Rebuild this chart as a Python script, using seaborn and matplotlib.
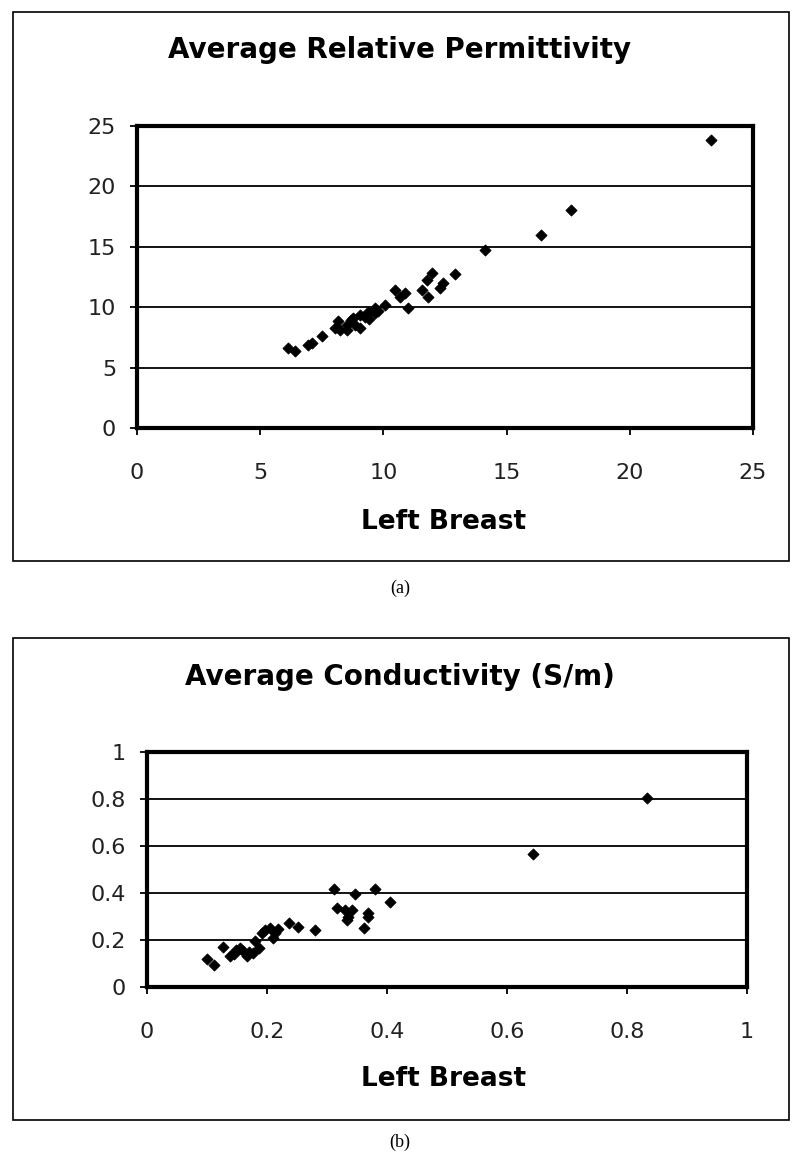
import numpy as np
import pandas as pd
import seaborn as sns
import matplotlib.pyplot as plt
from matplotlib.patches import Rectangle

sns.set_style("white")
plt.rcParams['font.family'] = ['DejaVu Sans']
plt.rcParams['text.color'] = 'black'

# (a) average relative permittivity, left breast vs right breast
perm_left = [6.14, 6.41, 6.95, 7.09, 7.49, 8.03, 8.17, 8.24, 8.51, 8.51, 8.78, 8.85,
             9.05, 9.05, 9.25, 9.39, 9.66, 9.66, 10.07, 10.47, 10.67, 10.88, 11.01,
             11.55, 11.76, 11.82, 11.96, 12.30, 12.43, 12.91, 8.70, 9.40, 9.80,
             14.14, 16.40, 17.63, 23.29]
perm_right = [6.62, 6.34, 6.89, 7.03, 7.63, 8.27, 8.82, 8.13, 8.13, 8.54, 9.10, 8.54,
              8.27, 9.37, 9.23, 9.64, 9.93, 9.51, 10.20, 11.44, 10.88, 11.17, 9.93,
              11.44, 12.27, 10.88, 12.82, 11.58, 11.99, 12.76, 8.90, 9.00, 9.70,
              14.70, 15.98, 18.04, 23.80]

# (b) average conductivity (S/m)
cond_left = [0.100, 0.112, 0.127, 0.138, 0.149, 0.160, 0.166, 0.177, 0.180, 0.186,
             0.191, 0.197, 0.205, 0.210, 0.213, 0.219, 0.236, 0.252, 0.280, 0.311,
             0.316, 0.330, 0.335, 0.333, 0.341, 0.347, 0.361, 0.368, 0.368, 0.380,
             0.405, 0.145, 0.155, 0.170, 0.643, 0.833]
cond_right = [0.119, 0.095, 0.170, 0.130, 0.159, 0.152, 0.133, 0.145, 0.194, 0.166,
              0.230, 0.244, 0.251, 0.208, 0.230, 0.247, 0.272, 0.255, 0.244, 0.417,
              0.336, 0.329, 0.300, 0.286, 0.329, 0.397, 0.251, 0.300, 0.315, 0.417,
              0.362, 0.140, 0.165, 0.150, 0.566, 0.805]

df_a = pd.DataFrame({'left': perm_left, 'right': perm_right})
df_b = pd.DataFrame({'left': cond_left, 'right': cond_right})

W, H = 800, 1162
fig = plt.figure(figsize=(W / 100, H / 100), dpi=100)


def px_box(x0, y0, x1, y1):
    # pixel box (top-left origin) -> figure fraction rect
    return [x0 / W, 1 - y1 / H, (x1 - x0) / W, (y1 - y0) / H]


def panel(df, rect, lim, ticks, ticklabels, title, title_y, xlabel_y, letter, letter_y, frame):
    fx0, fy0, fx1, fy1 = frame
    fig.patches.append(Rectangle((fx0 / W, 1 - fy1 / H), (fx1 - fx0) / W, (fy1 - fy0) / H,
                                 transform=fig.transFigure, fill=False,
                                 edgecolor='black', linewidth=1.2))
    ax = fig.add_axes(px_box(*rect))
    sns.scatterplot(data=df, x='left', y='right', ax=ax, marker='D', s=32,
                    color='black', edgecolor='black', linewidth=0.6, zorder=3)
    ax.set_xlim(lim)
    ax.set_ylim(lim)
    ax.set_xticks(ticks)
    ax.set_yticks(ticks)
    ax.set_xticklabels(ticklabels)
    ax.set_yticklabels(ticklabels)
    ax.grid(False)
    for t in ticks[1:-1]:
        ax.axhline(t, color='black', linewidth=1.3, zorder=1)
    for sp in ax.spines.values():
        sp.set_linewidth(3)
        sp.set_color('black')
    ax.tick_params(axis='both', direction='out', length=5, width=1.3,
                   labelsize=16, colors='black', labelcolor='#222222',
                   left=True, bottom=True)
    ax.tick_params(axis='x', pad=20)
    ax.tick_params(axis='y', pad=10)
    ax.set_xlabel('')
    ax.set_ylabel('')
    fig.text(0.5, 1 - title_y / H, title, ha='center', va='center',
             fontsize=20, fontweight='bold')
    fig.text(444 / W, 1 - xlabel_y / H, 'Left Breast', ha='center', va='center',
             fontsize=19, fontweight='bold')
    fig.text(0.5, 1 - letter_y / H, letter, ha='center', va='center',
             fontsize=13, family=['Liberation Serif', 'DejaVu Serif'])
    return ax


panel(df_a, (137, 126, 753, 428), (0, 25), [0, 5, 10, 15, 20, 25],
      ['0', '5', '10', '15', '20', '25'],
      'Average Relative Permittivity', 50, 522, '(a)', 588, (13, 12, 789, 561))

panel(df_b, (147, 752, 747, 987), (0, 1), [0, 0.2, 0.4, 0.6, 0.8, 1.0],
      ['0', '0.2', '0.4', '0.6', '0.8', '1'],
      'Average Conductivity (S/m)', 677, 1079, '(b)', 1142, (13, 638, 789, 1120))

fig.savefig('out.png', dpi=100, facecolor='white')
